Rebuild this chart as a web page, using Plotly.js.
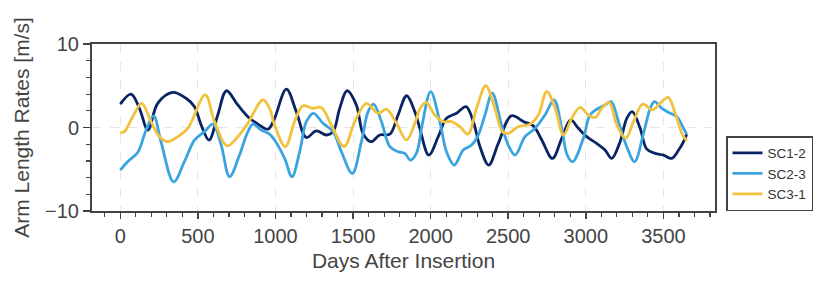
<!DOCTYPE html>
<html>
<head>
<meta charset="utf-8">
<script src="https://cdn.plot.ly/plotly-3.0.1.min.js"></script>
<style>
  html, body { margin: 0; padding: 0; background: #fff; }
  #chart { width: 830px; height: 287px; }
</style>
</head>
<body>
<div id="chart"></div>
<script>
// ---- Data ----
const seriesNames = ["SC1-2", "SC2-3", "SC3-1"];

const daysSC12 = [0, 69, 123, 178, 241, 338, 424, 478, 521, 572, 628, 684, 757, 822, 887, 951, 990, 1070, 1134, 1199, 1263, 1328, 1371, 1414, 1461, 1521, 1564, 1616, 1672, 1737, 1790, 1845, 1898, 1930, 1988, 2049, 2102, 2167, 2228, 2275, 2318, 2374, 2436, 2520, 2600, 2662, 2716, 2785, 2845, 2902, 2952, 3006, 3070, 3124, 3167, 3221, 3264, 3299, 3350, 3393, 3447, 3501, 3553, 3598, 3630, 3650];
const valsSC12 = [2.8, 4.0, 2.3, -0.3, 2.9, 4.2, 3.5, 2.5, 0.3, -1.5, 1.5, 4.4, 2.7, 1.3, 0.4, -0.2, 0.9, 4.6, 1.9, -1.2, -0.4, -0.9, -0.5, 2.3, 4.4, 2.7, -0.7, -1.7, -0.9, -0.8, 1.5, 3.8, 1.9, -0.1, -3.3, -1.1, 1.1, 1.7, 2.5, 0.7, -2.3, -4.5, -1.9, 1.4, 0.7, 0.2, -1.5, -3.7, -1.3, 0.9, -0.1, -1.1, -1.9, -2.7, -3.7, -1.7, 1.1, 1.9, -0.1, -2.6, -3.1, -3.3, -3.7, -2.7, -1.7, -0.8];

const daysSC23 = [0, 47, 112, 166, 215, 262, 344, 413, 478, 542, 597, 650, 704, 768, 822, 855, 908, 962, 994, 1059, 1106, 1156, 1199, 1245, 1306, 1371, 1425, 1495, 1554, 1597, 1632, 1683, 1737, 1790, 1833, 1870, 1910, 1945, 2000, 2059, 2102, 2152, 2210, 2264, 2307, 2350, 2397, 2457, 2500, 2544, 2608, 2673, 2737, 2795, 2845, 2880, 2915, 2984, 3027, 3081, 3124, 3163, 3210, 3264, 3314, 3372, 3415, 3443, 3490, 3544, 3587, 3630, 3650];
const valsSC23 = [-5.1, -4.1, -3.0, -0.3, 1.4, -1.7, -6.5, -4.1, -1.5, -0.5, 0.4, -2.1, -5.9, -3.3, -0.5, 0.4, -0.3, -0.8, -1.5, -3.7, -5.9, -2.9, 0.7, 1.7, 0.5, -0.5, -2.9, -5.5, -1.7, 1.9, 2.8, 0.7, -2.3, -2.9, -3.1, -3.9, -3.0, 0.3, 4.3, 0.7, -2.9, -4.5, -2.7, -2.1, -0.9, 1.5, 4.1, 0.3, -2.1, -3.3, -1.1, -0.1, 1.5, 3.3, -0.1, -3.3, -4.1, -1.3, 1.5, 2.3, 2.7, 3.1, 0.7, -2.3, -4.1, -0.7, 2.3, 3.1, 2.3, 1.7, 1.3, -0.1, -0.8];

const daysSC31 = [0, 26, 80, 138, 198, 252, 306, 370, 435, 547, 607, 689, 757, 822, 919, 962, 994, 1063, 1123, 1177, 1242, 1295, 1360, 1442, 1511, 1586, 1661, 1715, 1780, 1844, 1898, 1930, 1970, 2027, 2081, 2135, 2189, 2240, 2296, 2355, 2414, 2462, 2500, 2565, 2640, 2694, 2748, 2802, 2856, 2909, 2963, 3017, 3060, 3103, 3150, 3200, 3257, 3307, 3367, 3430, 3479, 3531, 3576, 3619, 3650];
const valsSC31 = [-0.6, -0.5, 1.3, 2.9, 0.7, -1.1, -1.7, -1.1, -0.1, 3.9, 0.7, -2.2, -1.1, 0.5, 3.3, 2.3, 0.3, -2.3, 0.7, 2.6, 2.3, 2.4, 0.3, -2.3, 0.7, 2.9, 1.7, 2.2, 0.5, -1.5, 0.5, 2.2, 3.0, 1.5, 0.7, 0.7, 0.1, -0.8, 2.3, 5.0, 2.3, -0.5, -0.7, 0.1, 0.4, 1.5, 4.3, 2.3, -0.9, 1.1, 2.4, 1.5, 1.2, 2.3, 3.0, 0.3, -1.3, 0.7, 2.8, 2.1, 2.9, 3.6, 1.7, -0.7, -1.6];

const seriesColors = ["#0a2463", "#3ba4e0", "#f0c23e"];

// ---- Chart ----
const FONT = "Liberation Sans, Arial, sans-serif";
const AX = "#444444";

const xs = [daysSC12, daysSC23, daysSC31];
const ys = [valsSC12, valsSC23, valsSC31];

const traces = seriesNames.map((name, i) => ({
  type: "scatter",
  mode: "lines",
  name: name,
  x: xs[i],
  y: ys[i],
  line: { color: seriesColors[i], width: 2.8, shape: "spline", smoothing: 1 },
  hoverinfo: "skip"
}));

const layout = {
  width: 830,
  height: 287,
  margin: { l: 92, r: 115, t: 44, b: 76, pad: 0 },
  paper_bgcolor: "#ffffff",
  plot_bgcolor: "#ffffff",
  font: { family: FONT, color: AX, size: 20 },
  showlegend: true,
  legend: {
    x: 1.0177, y: 0, xanchor: "left", yanchor: "bottom",
    bordercolor: AX, borderwidth: 1.5, bgcolor: "#ffffff",
    font: { family: FONT, size: 13.5, color: "#333" },
    tracegroupgap: 0, itemwidth: 30
  },
  xaxis: {
    range: [-182.5, 3832.5],
    tickmode: "linear", tick0: 0, dtick: 500,
    ticks: "outside", ticklen: 6, tickwidth: 1.5, tickcolor: AX,
    tickfont: { family: FONT, size: 20, color: AX },
    showline: true, mirror: true, linecolor: AX, linewidth: 2,
    showgrid: true, gridcolor: "#e6e6e6", gridwidth: 1, griddash: "dash",
    zeroline: false,
    minor: { dtick: 100, tick0: 0, ticks: "outside", ticklen: 3.5, tickwidth: 1.2, tickcolor: AX, showgrid: false },
    title: { text: "Days After Insertion", font: { family: FONT, size: 21, color: AX }, standoff: 7 },
    automargin: false
  },
  yaxis: {
    range: [-10, 10],
    tickmode: "linear", tick0: 0, dtick: 10,
    ticks: "outside", ticklen: 7, tickwidth: 1.5, tickcolor: AX,
    tickfont: { family: FONT, size: 20, color: AX },
    showline: true, mirror: true, linecolor: AX, linewidth: 2,
    showgrid: true, gridcolor: "#e6e6e6", gridwidth: 1, griddash: "dash",
    zeroline: false,
    minor: { dtick: 2, tick0: 0, ticks: "outside", ticklen: 4, tickwidth: 1.2, tickcolor: AX, showgrid: false },
    title: { text: "Arm Length Rates [m/s]", font: { family: FONT, size: 21, color: AX }, standoff: 10 },
    automargin: false
  }
};

Plotly.newPlot("chart", traces, layout, { staticPlot: true, displayModeBar: false });
</script>
</body>
</html>
